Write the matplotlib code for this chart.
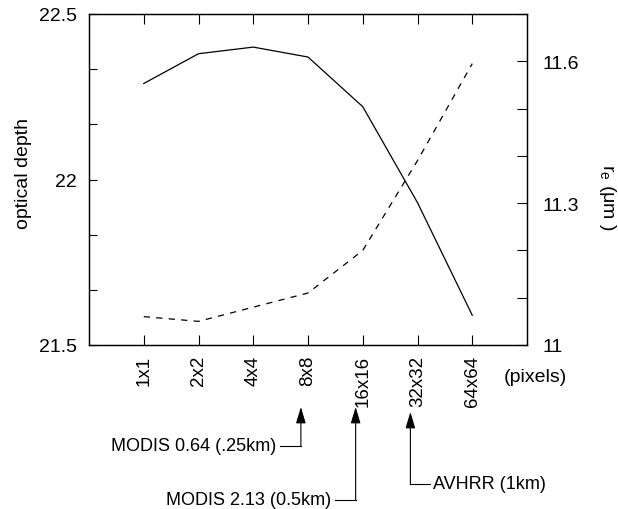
import matplotlib
matplotlib.use("Agg")
import matplotlib.pyplot as plt
import matplotlib.transforms as mtransforms
import numpy as np

plt.rcParams['font.family'] = ['Liberation Sans', 'DejaVu Sans']

# box sizes (pixels) and retrieved values
box_labels = ["1x1", "2x2", "4x4", "8x8", "16x16", "32x32", "64x64"]
optical_depth = [22.29, 22.38, 22.40, 22.37, 22.22, 21.93, 21.59]
r_eff = [11.06, 11.05, 11.08, 11.11, 11.20, 11.39, 11.595]

# instrument footprints marked under the x axis
instruments = ["MODIS 0.64 (.25km)", "MODIS 2.13 (0.5km)", "AVHRR (1km)"]
instrument_box = ["8x8", "16x16", "32x32"]

fig = plt.figure(figsize=(6.18, 5.10), dpi=100)
ax = fig.add_axes([89 / 618, 1 - 346 / 510, 438 / 618, 331 / 510])
ax2 = ax.twinx()

x = np.arange(1, len(box_labels) + 1)
ax.plot(x, optical_depth, color='k', lw=0.9)
ax2.plot(x, r_eff, color='k', lw=0.9, ls=(0, (5, 5)))

ax.set_xlim(0, len(box_labels) + 1)
ax.set_ylim(21.5, 22.5)
ax2.set_ylim(11.0, 11.7)

ax.set_xticks(x)
ax.set_xticklabels(box_labels, rotation=90, fontsize=13.5)
ax.set_yticks([21.5, 22, 22.5])
ax.set_yticklabels(["21.5", "22", "22.5"], fontsize=14)
ax.set_yticks(np.linspace(21.5, 22.5, 7), minor=True)
ax2.set_yticks([11.0, 11.3, 11.6])
ax2.set_yticklabels(["11", "11.3", "11.6"], fontsize=14)
ax2.set_yticks(np.arange(11.0, 11.71, 0.1), minor=True)

ax.tick_params(axis='x', direction='in', top=True, length=7, width=0.8, pad=7)
ax.tick_params(axis='y', which='both', direction='in', length=6, width=0.8, pad=9)
ax2.tick_params(axis='y', which='both', direction='in', length=7, width=0.8, pad=11)

for a in (ax, ax2):
    for sp in a.spines.values():
        sp.set_linewidth(0.9)

ax.set_ylabel("optical depth", fontsize=14)
ax.yaxis.set_label_coords(-0.13, 0.52)
ax2.set_ylabel(r"r$_\mathregular{e}$ (μm )", fontsize=14, rotation=270, va='center')
ax2.yaxis.set_label_coords(1.183, 0.45)

# x in data units, y in figure fraction
tr = mtransforms.blended_transform_factory(ax.transData, fig.transFigure)
ax.text(7.58, 1 - 377 / 510, "(pixels)", transform=tr, fontsize=14,
        ha='left', va='center', clip_on=False)

tips = [1 - 408 / 510, 1 - 408 / 510, 1 - 413 / 510]
corners = [1 - 447 / 510, 1 - 501 / 510, 1 - 485 / 510]
sides = ['left', 'left', 'right']
for name, box, tip, corner, side in zip(instruments, instrument_box, tips, corners, sides):
    xa = box_labels.index(box) + 1 - 0.13
    ax.annotate("", xy=(xa, tip), xytext=(xa, corner), xycoords=tr, textcoords=tr,
                arrowprops=dict(arrowstyle='-|>,head_length=1.0,head_width=0.3',
                                color='k', lw=0.8, shrinkA=0, shrinkB=0),
                annotation_clip=False)
    if side == 'left':
        xs = [xa - 0.38, xa]
        ax.text(xa - 0.45, corner, name, transform=tr, fontsize=13,
                ha='right', va='center', clip_on=False)
    else:
        xs = [xa, xa + 0.35]
        ax.text(xa + 0.42, corner, name, transform=tr, fontsize=13,
                ha='left', va='center', clip_on=False)
    ax.plot(xs, [corner, corner], transform=tr, color='k', lw=0.8, clip_on=False)

fig.savefig("out.png", dpi=100)
